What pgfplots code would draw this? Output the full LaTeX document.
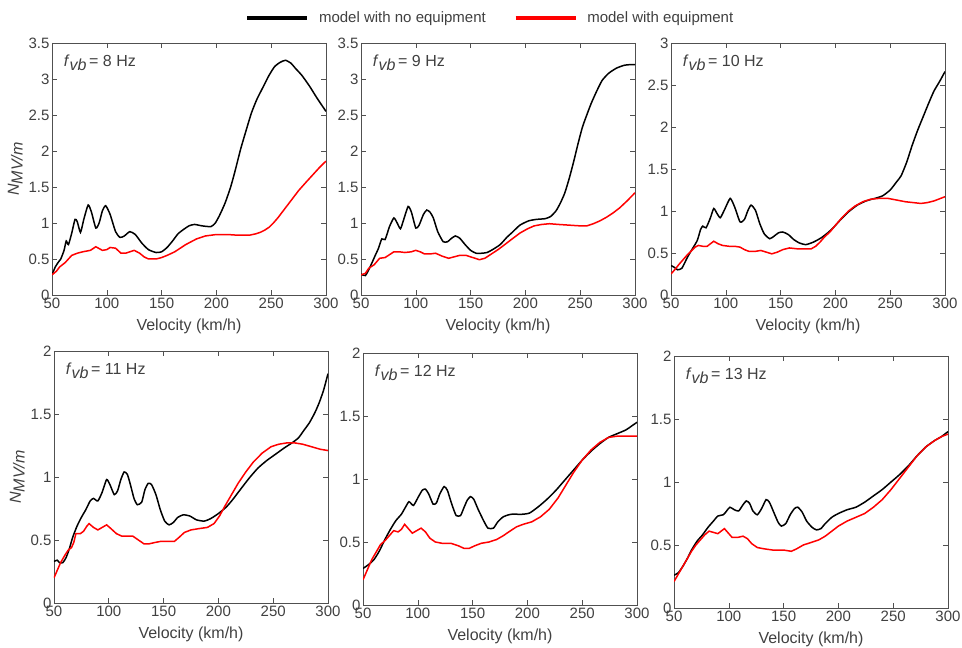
\documentclass[border=0pt]{standalone}
\usepackage{fontspec}
\setmainfont{Liberation Sans}
\usepackage{pgfplots}
\pgfplotsset{compat=1.18}

\definecolor{txt}{HTML}{404040}
\definecolor{frame}{HTML}{505050}
\definecolor{eqred}{HTML}{FF0000}

\newcommand{\fvb}[1]{\textit{f}\raisebox{-0.45ex}{\itshape vb}\,= #1 Hz}

\tikzset{tag/.style={font=\fontsize{16}{19}\selectfont, text=txt, anchor=west}}

\pgfplotsset{
  panel/.style={
    width=274pt, height=252pt, scale only axis,
    anchor=south west,
    xmin=50, xmax=300, ymin=0,
    xtick={50,100,...,300},
    tick align=inside,
    major tick length=5pt,
    axis line style={frame, line width=0.8pt},
    every tick/.style={frame, line width=0.6pt},
    ticklabel style={font=\fontsize{15}{18}\selectfont, text=txt},
    /pgf/number format/assume math mode=true,
    xticklabel style={yshift=1pt},
    yticklabel style={xshift=1pt},
    xlabel={Velocity (km/h)},
    xlabel style={font=\fontsize{16}{19}\selectfont, text=txt, yshift=-4pt},
    ylabel style={font=\fontsize{16}{19}\selectfont, text=txt, yshift=-1pt},
    clip=true,
  },
  noeq/.style={black, line width=1.5pt, smooth, tension=0.35},
  witheq/.style={eqred, line width=1.5pt},
}

\begin{document}
\begin{tikzpicture}
\path[use as bounding box] (0,0) rectangle (962pt,648pt);

% ---------------- f_vb = 8 Hz ----------------
\begin{axis}[panel, at={(52pt,353pt)}, ymax=3.5, ytick={0,0.5,...,3.5},
  ylabel={\textit{N}\raisebox{-0.45ex}{\itshape MV/m}},
  legend columns=2,
  legend style={at={(1.6,1.1)}, anchor=center, draw=none, fill=none,
    font=\fontsize{15}{18}\selectfont, text=txt,
    /tikz/every odd column/.append style={column sep=8pt},
    /tikz/every even column/.append style={column sep=26pt}},
  legend image code/.code={\draw[#1, line width=3.5pt, smooth=false] (0pt,0pt) -- (60pt,0pt);},
]
\addplot[noeq] coordinates {
(50,0.28)(53,0.39)(56,0.46)(58,0.50)(61,0.62)(63,0.75)(65,0.70)(68,0.86)(71,1.05)(73,1.02)(76,0.87)(79,1.05)(83,1.25)(86,1.15)(90,0.93)(93,1.00)(96,1.17)(99,1.24)(103,1.12)(108,0.88)(112,0.80)(116,0.82)(121,0.88)(126,0.84)(132,0.72)(138,0.63)(145,0.59)(150,0.60)(155,0.66)(160,0.75)(165,0.85)(170,0.91)(175,0.96)(180,0.98)(187,0.96)(195,0.95)(199,1.00)(203,1.11)(208,1.28)(213,1.50)(217,1.72)(222,2.02)(227,2.28)(232,2.53)(237,2.72)(243,2.90)(248,3.05)(253,3.17)(258,3.23)(263,3.26)(268,3.22)(272,3.15)(278,3.05)(285,2.90)(292,2.73)(300,2.55)};
\addlegendentry{model with no equipment}
\addplot[witheq] coordinates {
(50,0.28)(54,0.33)(57,0.39)(62,0.45)(65,0.50)(68,0.55)(73,0.58)(78,0.60)(85,0.62)(90,0.67)(96,0.62)(100,0.63)(103,0.66)(108,0.65)(113,0.58)(117,0.58)(121,0.60)(125,0.62)(130,0.58)(134,0.53)(138,0.50)(145,0.50)(150,0.52)(155,0.55)(162,0.60)(167,0.65)(172,0.70)(177,0.74)(182,0.78)(190,0.82)(200,0.84)(210,0.84)(220,0.83)(230,0.83)(236,0.85)(240,0.87)(244,0.90)(248,0.94)(252,1.00)(256,1.07)(260,1.15)(265,1.25)(270,1.35)(275,1.45)(282,1.57)(288,1.67)(294,1.77)(300,1.86)};
\addlegendentry{model with equipment}
\node[tag] at (rel axis cs:0.03,0.92) {\fvb{8}};
\end{axis}

% ---------------- f_vb = 9 Hz ----------------
\begin{axis}[panel, at={(361pt,353pt)}, ymax=3.5, ytick={0,0.5,...,3.5}]
\addplot[noeq] coordinates {
(50,0.29)(54,0.27)(58,0.38)(63,0.55)(66,0.65)(69,0.78)(72,0.77)(76,0.95)(80,1.07)(83,1.00)(86,0.92)(89,1.05)(93,1.23)(96,1.15)(100,0.93)(103,0.97)(107,1.12)(110,1.18)(113,1.15)(116,1.07)(120,0.88)(125,0.74)(129,0.74)(132,0.78)(136,0.82)(140,0.79)(145,0.70)(150,0.62)(155,0.58)(160,0.58)(165,0.59)(170,0.63)(177,0.70)(183,0.80)(188,0.87)(195,0.97)(203,1.03)(210,1.05)(218,1.06)(223,1.09)(228,1.17)(232,1.28)(236,1.42)(240,1.62)(244,1.85)(248,2.10)(252,2.33)(256,2.50)(260,2.66)(265,2.83)(270,2.98)(276,3.08)(283,3.15)(290,3.19)(296,3.20)(300,3.20)};
\addplot[witheq] coordinates {
(50,0.28)(54,0.30)(57,0.37)(62,0.42)(67,0.51)(72,0.52)(76,0.56)(80,0.60)(85,0.60)(90,0.59)(96,0.60)(100,0.62)(104,0.60)(108,0.57)(113,0.57)(118,0.58)(124,0.54)(130,0.51)(135,0.53)(140,0.55)(146,0.55)(152,0.52)(158,0.49)(163,0.51)(168,0.56)(175,0.63)(182,0.71)(188,0.78)(195,0.86)(202,0.92)(208,0.96)(215,0.98)(222,0.99)(230,0.98)(240,0.97)(250,0.96)(256,0.96)(262,0.99)(268,1.03)(274,1.08)(280,1.14)(286,1.21)(293,1.31)(300,1.42)};
\node[tag] at (rel axis cs:0.03,0.92) {\fvb{9}};
\end{axis}

% ---------------- f_vb = 10 Hz ----------------
\begin{axis}[panel, at={(671pt,353pt)}, ymax=3, ytick={0,0.5,...,3}]
\addplot[noeq] coordinates {
(50,0.35)(53,0.33)(56,0.30)(60,0.32)(65,0.45)(70,0.56)(74,0.65)(77,0.78)(79,0.82)(82,0.80)(86,0.92)(89,1.03)(92,0.97)(95,0.92)(99,1.02)(104,1.15)(108,1.05)(113,0.87)(117,0.90)(120,1.00)(123,1.07)(127,1.01)(131,0.85)(135,0.73)(140,0.67)(144,0.70)(148,0.74)(152,0.75)(157,0.72)(162,0.66)(167,0.62)(173,0.60)(180,0.63)(187,0.68)(193,0.74)(198,0.80)(205,0.90)(212,0.99)(220,1.07)(228,1.12)(236,1.15)(243,1.18)(250,1.25)(256,1.35)(260,1.42)(265,1.58)(270,1.78)(275,1.96)(280,2.12)(285,2.28)(290,2.43)(295,2.54)(300,2.66)};
\addplot[witheq] coordinates {
(50,0.25)(54,0.31)(57,0.36)(61,0.42)(65,0.48)(69,0.53)(72,0.57)(75,0.59)(79,0.58)(83,0.58)(86,0.61)(89,0.64)(93,0.61)(97,0.59)(103,0.58)(108,0.58)(113,0.57)(117,0.54)(121,0.52)(127,0.52)(132,0.53)(137,0.51)(142,0.49)(147,0.51)(152,0.54)(158,0.56)(165,0.55)(172,0.55)(178,0.55)(182,0.58)(186,0.63)(190,0.69)(195,0.75)(200,0.83)(206,0.92)(212,1.00)(218,1.06)(225,1.11)(232,1.14)(240,1.15)(248,1.15)(256,1.13)(264,1.11)(271,1.10)(278,1.09)(284,1.10)(290,1.12)(296,1.15)(300,1.17)};
\node[tag] at (rel axis cs:0.03,0.92) {\fvb{10}};
\end{axis}

% ---------------- f_vb = 11 Hz ----------------
\begin{axis}[panel, at={(54pt,45pt)}, ymax=2, ytick={0,0.5,...,2},
  ylabel={\textit{N}\raisebox{-0.45ex}{\itshape MV/m}}]
\addplot[noeq] coordinates {
(50,0.33)(53,0.34)(55,0.32)(58,0.32)(61,0.36)(64,0.43)(67,0.52)(71,0.61)(75,0.68)(79,0.74)(83,0.81)(86,0.83)(90,0.81)(94,0.88)(98,0.98)(101,0.94)(105,0.86)(108,0.89)(111,0.98)(114,1.04)(117,1.02)(120,0.93)(123,0.83)(126,0.78)(130,0.80)(133,0.90)(136,0.95)(139,0.94)(143,0.86)(147,0.74)(151,0.65)(155,0.62)(159,0.64)(163,0.68)(168,0.70)(174,0.69)(180,0.66)(187,0.65)(193,0.67)(200,0.71)(207,0.76)(213,0.82)(220,0.90)(228,0.99)(236,1.07)(244,1.13)(252,1.18)(260,1.23)(267,1.27)(273,1.31)(278,1.37)(283,1.43)(288,1.51)(292,1.59)(296,1.69)(300,1.82)};
\addplot[witheq] coordinates {
(50,0.20)(53,0.26)(56,0.32)(60,0.38)(63,0.42)(66,0.44)(68,0.48)(70,0.55)(74,0.55)(77,0.57)(80,0.61)(82,0.63)(86,0.60)(90,0.58)(94,0.60)(98,0.62)(102,0.59)(107,0.55)(112,0.53)(117,0.53)(122,0.53)(127,0.50)(132,0.47)(137,0.47)(142,0.48)(148,0.49)(155,0.49)(160,0.49)(164,0.52)(169,0.56)(175,0.58)(182,0.59)(190,0.60)(196,0.63)(201,0.69)(206,0.77)(212,0.86)(218,0.95)(225,1.04)(232,1.12)(240,1.19)(248,1.24)(255,1.26)(262,1.27)(270,1.27)(277,1.26)(285,1.24)(293,1.22)(300,1.21)};
\node[tag] at (rel axis cs:0.03,0.92) {\fvb{11}};
\end{axis}

% ---------------- f_vb = 12 Hz ----------------
\begin{axis}[panel, at={(363pt,43pt)}, ymax=2, ytick={0,0.5,...,2}]
\addplot[noeq] coordinates {
(50,0.29)(55,0.32)(60,0.36)(65,0.43)(70,0.52)(75,0.60)(80,0.67)(85,0.72)(89,0.78)(92,0.82)(96,0.79)(100,0.85)(104,0.91)(107,0.92)(110,0.88)(114,0.80)(117,0.81)(120,0.88)(124,0.94)(127,0.91)(131,0.80)(135,0.71)(139,0.71)(142,0.77)(145,0.83)(148,0.86)(151,0.84)(155,0.76)(160,0.67)(164,0.61)(169,0.61)(173,0.66)(178,0.70)(185,0.72)(195,0.72)(202,0.73)(210,0.78)(218,0.84)(226,0.91)(234,0.99)(242,1.07)(250,1.15)(258,1.22)(266,1.28)(274,1.33)(282,1.36)(290,1.39)(295,1.42)(300,1.45)};
\addplot[witheq] coordinates {
(50,0.20)(54,0.28)(58,0.36)(62,0.42)(66,0.48)(70,0.51)(74,0.55)(78,0.59)(82,0.58)(85,0.60)(88,0.64)(91,0.61)(95,0.57)(99,0.59)(103,0.61)(107,0.58)(111,0.53)(116,0.50)(122,0.49)(130,0.49)(137,0.47)(142,0.45)(147,0.45)(152,0.47)(158,0.49)(165,0.50)(172,0.52)(178,0.55)(183,0.58)(190,0.62)(196,0.64)(204,0.66)(212,0.70)(220,0.76)(228,0.85)(235,0.95)(242,1.05)(250,1.15)(258,1.23)(266,1.29)(274,1.33)(282,1.34)(290,1.34)(300,1.34)};
\node[tag] at (rel axis cs:0.03,0.92) {\fvb{12}};
\end{axis}

% ---------------- f_vb = 13 Hz ----------------
\begin{axis}[panel, at={(674pt,40pt)}, ymax=2, ytick={0,0.5,...,2}]
\addplot[noeq] coordinates {
(50,0.26)(54,0.28)(58,0.33)(62,0.39)(66,0.46)(71,0.53)(76,0.58)(81,0.64)(86,0.69)(90,0.73)(95,0.74)(98,0.77)(101,0.80)(105,0.78)(109,0.77)(113,0.82)(116,0.85)(119,0.83)(122,0.77)(126,0.74)(130,0.79)(134,0.86)(137,0.84)(141,0.76)(145,0.68)(148,0.65)(152,0.67)(156,0.74)(160,0.79)(163,0.80)(167,0.76)(171,0.69)(176,0.64)(180,0.62)(184,0.63)(188,0.67)(194,0.72)(200,0.75)(208,0.78)(216,0.80)(224,0.84)(232,0.89)(240,0.94)(248,1.00)(256,1.06)(264,1.13)(272,1.21)(280,1.28)(288,1.33)(294,1.36)(300,1.40)};
\addplot[witheq] coordinates {
(50,0.21)(54,0.27)(58,0.33)(62,0.39)(66,0.45)(70,0.50)(74,0.54)(78,0.58)(82,0.61)(86,0.60)(90,0.59)(93,0.61)(96,0.63)(99,0.60)(103,0.56)(108,0.56)(113,0.57)(117,0.55)(121,0.51)(126,0.48)(132,0.47)(140,0.46)(150,0.46)(157,0.45)(162,0.47)(168,0.50)(175,0.52)(182,0.54)(188,0.57)(194,0.61)(200,0.65)(208,0.69)(216,0.72)(224,0.75)(232,0.80)(240,0.86)(248,0.94)(256,1.03)(264,1.12)(272,1.21)(280,1.28)(288,1.33)(294,1.36)(300,1.38)};
\node[tag] at (rel axis cs:0.03,0.92) {\fvb{13}};
\end{axis}
\end{tikzpicture}
\end{document}
